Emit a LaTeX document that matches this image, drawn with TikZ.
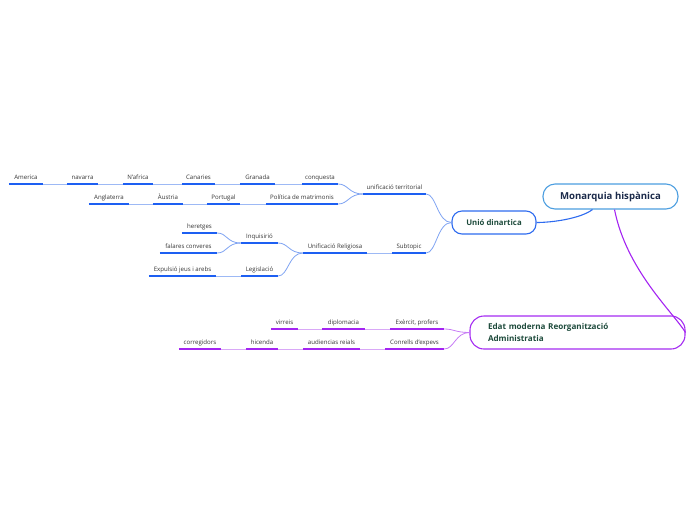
\documentclass[tikz,border=0pt]{standalone}
\usepackage{fontspec}
\setmainfont{Open Sans}
\usetikzlibrary{calc}
\definecolor{ublue}{HTML}{1D5FF2}
\definecolor{lblue}{HTML}{9DB9F5}
\definecolor{cblue}{HTML}{7FA3F2}
\definecolor{upurp}{HTML}{A424F2}
\definecolor{lpurp}{HTML}{D9A8F7}
\definecolor{cpurp}{HTML}{C77CF5}
\definecolor{leaftxt}{HTML}{333333}
\definecolor{navy}{HTML}{1B2A4A}
\definecolor{dgreen}{HTML}{1E4B3C}
\definecolor{monb}{HTML}{4C9EE0}
\definecolor{uniob}{HTML}{2E6BEF}
\definecolor{edatb}{HTML}{A52CF2}
\tikzset{
  leaf/.style={inner xsep=0pt, inner ysep=4pt, text depth=0pt, anchor=south,
    font=\fontsize{6.1}{7}\selectfont, text=leaftxt},
  ulb/.style={draw=ublue, line width=1.8pt},
  ulp/.style={draw=upurp, line width=1.8pt},
  lnb/.style={draw=lblue, line width=0.9pt},
  lnp/.style={draw=lpurp, line width=0.9pt},
  cvb/.style={draw=cblue, line width=0.8pt},
  cvp/.style={draw=cpurp, line width=0.8pt},
  mainbox/.style={draw=monb, line width=1.1pt, fill=white, rounded corners=12pt,
    minimum width=135pt, minimum height=25pt, text=navy,
    font=\fontsize{9.6}{11}\selectfont\bfseries},
  unibox/.style={draw=uniob, line width=1.1pt, fill=white, rounded corners=10pt,
    minimum width=84pt, minimum height=23pt, text=dgreen,
    font=\fontsize{7.8}{9}\selectfont\bfseries},
  edatbox/.style={draw=edatb, line width=1.1pt, fill=white, rounded corners=14pt,
    minimum height=33pt, text width=179pt, inner xsep=18pt, align=left, text=dgreen,
    font=\fontsize{8.1}{11.5}\selectfont\bfseries},
}
\newcommand\tp[5]{\node[leaf, minimum width={(#3-#2)*1pt}] (#1) at ({(#2+#3)/2},#4) {#5};}
\newcommand\cv[3]{\draw[#3] (#1.south west) .. controls +(-14,0) and +(10,0) .. (#2.south east);}
\begin{document}
\begin{tikzpicture}[x=1pt,y=-1pt]
\useasboundingbox (0,0) rectangle (696,520);
% central and main topics
\node[mainbox] (mon) at (610.5,196.5) {Monarquia hispànica};
\node[unibox] (unio) at (494,222.5) {Unió dinartica};
\node[edatbox] (edat) at (577.5,332.5) {Edat moderna Reorganització\\Administratia};
% blue leaves
\tp{america}{9}{43}{184}{America}
\tp{navarra}{67}{98}{184}{navarra}
\tp{nafrica}{123}{153}{184}{N'africa}
\tp{canaries}{182}{215}{184}{Canaries}
\tp{granada}{240}{275}{184}{Granada}
\tp{conquesta}{302}{338}{184}{conquesta}
\tp{anglaterra}{89}{129}{204}{Anglaterra}
\tp{austria}{153}{183}{204}{Àustria}
\tp{portugal}{207}{240}{204}{Portugal}
\tp{politica}{266}{338}{204}{Política de matrimonis}
\tp{unificacio}{363}{426}{194}{unificació territorial}
\tp{subtopic}{392}{426}{253}{Subtopic}
\tp{religiosa}{303}{367}{253}{Unificació Religiosa}
\tp{inquisicio}{241}{278}{243}{Inquisirió}
\tp{legislacio}{241}{278}{276}{Legislació}
\tp{heretges}{182}{217}{233}{heretges}
\tp{falares}{160}{217}{253}{falares converes}
\tp{expulsio}{149}{216}{276}{Expulsió jeus i arebs}
% purple leaves
\tp{exercit}{390}{444}{329}{Exèrcit, profers}
\tp{diplomacia}{322}{365}{329}{diplomacia}
\tp{virreis}{271}{298}{329}{virreis}
\tp{conrells}{385}{444}{349}{Conrells d'expevs}
\tp{audiencias}{303}{360}{349}{audiencias reials}
\tp{hicenda}{246}{278}{349}{hicenda}
\tp{corregidors}{179}{221}{349}{corregidors}
% straight light connectors
\draw[lnb] (conquesta.south west) -- (granada.south east);
\draw[lnb] (granada.south west) -- (canaries.south east);
\draw[lnb] (canaries.south west) -- (nafrica.south east);
\draw[lnb] (nafrica.south west) -- (navarra.south east);
\draw[lnb] (navarra.south west) -- (america.south east);
\draw[lnb] (politica.south west) -- (portugal.south east);
\draw[lnb] (portugal.south west) -- (austria.south east);
\draw[lnb] (austria.south west) -- (anglaterra.south east);
\draw[lnb] (subtopic.south west) -- (religiosa.south east);
\draw[lnb] (legislacio.south west) -- (expulsio.south east);
\draw[lnp] (exercit.south west) -- (diplomacia.south east);
\draw[lnp] (diplomacia.south west) -- (virreis.south east);
\draw[lnp] (conrells.south west) -- (audiencias.south east);
\draw[lnp] (audiencias.south west) -- (hicenda.south east);
\draw[lnp] (hicenda.south west) -- (corregidors.south east);
% curved connectors
\draw[cvb] (unio.west) .. controls +(-14,0) and +(10,0) .. (unificacio.south east);
\draw[cvb] (unio.west) .. controls +(-14,0) and +(10,0) .. (subtopic.south east);
\cv{unificacio}{conquesta}{cvb}
\cv{unificacio}{politica}{cvb}
\cv{religiosa}{inquisicio}{cvb}
\cv{religiosa}{legislacio}{cvb}
\cv{inquisicio}{heretges}{cvb}
\cv{inquisicio}{falares}{cvb}
\draw[cvp] (edat.west) .. controls +(-14,0) and +(10,0) .. (exercit.south east);
\draw[cvp] (edat.west) .. controls +(-14,0) and +(10,0) .. (conrells.south east);
% underlines
\foreach \n in {america,navarra,nafrica,canaries,granada,conquesta,anglaterra,austria,portugal,politica,unificacio,subtopic,religiosa,inquisicio,legislacio,heretges,falares,expulsio}
  \draw[ulb] (\n.south west) -- (\n.south east);
\foreach \n in {exercit,diplomacia,virreis,conrells,audiencias,hicenda,corregidors}
  \draw[ulp] (\n.south west) -- (\n.south east);
% main connectors
\draw[draw=uniob, line width=1.1pt] ([xshift=-18pt]mon.south) .. controls +(-12,9) and +(16,0) .. (unio.east);
\draw[draw=upurp, line width=1.1pt] ([xshift=4pt]mon.south) .. controls +(12,60) and +(-14,-22) .. (edat.east);
\end{tikzpicture}
\end{document}
